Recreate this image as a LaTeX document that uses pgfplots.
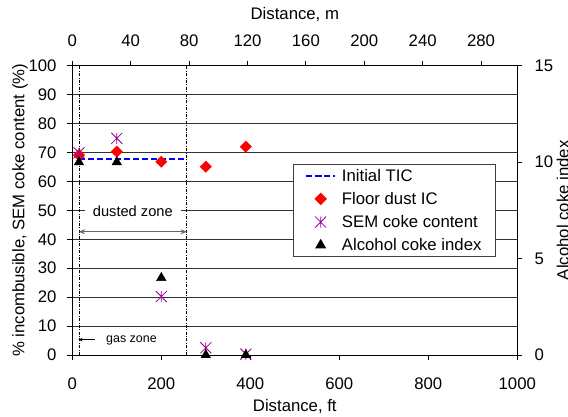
\documentclass[border=0pt]{standalone}
\usepackage{pgfplots}
\pgfplotsset{compat=1.18}
\usepackage{fontspec}
\setmainfont{Liberation Sans}
\usetikzlibrary{arrows.meta}
\definecolor{semviolet}{RGB}{153,0,153}
\pgfdeclareplotmark{excelstar}{%
  \pgfpathmoveto{\pgfqpoint{-\pgfplotmarksize}{-\pgfplotmarksize}}%
  \pgfpathlineto{\pgfqpoint{\pgfplotmarksize}{\pgfplotmarksize}}%
  \pgfpathmoveto{\pgfqpoint{-\pgfplotmarksize}{\pgfplotmarksize}}%
  \pgfpathlineto{\pgfqpoint{\pgfplotmarksize}{-\pgfplotmarksize}}%
  \pgfpathmoveto{\pgfqpoint{0pt}{-\pgfplotmarksize}}%
  \pgfpathlineto{\pgfqpoint{0pt}{\pgfplotmarksize}}%
  \pgfusepathqstroke}
\newcommand{\bigf}{\fontsize{16.8}{20}\selectfont}
\pgfplotsset{
  every axis/.append style={
    scale only axis, width=445bp, height=289.3bp,
    tick align=outside, major tick length=5bp,
    axis line style={black, line width=0.8bp},
    tick style={black, line width=0.8bp},
    font=\bigf,
    ticklabel style={font=\bigf},
    /pgf/number format/assume math mode=true,
    /pgf/number format/set thousands separator={},
    clip=false,
  },
  legend image code/.code={%
    \draw[mark repeat=2,mark phase=2,#1] plot coordinates {(0bp,0bp)(14.5bp,0bp)(29bp,0bp)};},
}
\begin{document}
\begin{tikzpicture}
\begin{axis}[
  xmin=0, xmax=1000, ymin=0, ymax=100,
  xtick={0,200,...,1000}, ytick={0,10,...,100},
  xtick pos=left, ytick pos=left,
  ymajorgrids, grid style={black!80, line width=0.6bp},
  xticklabel style={anchor=north, inner sep=0pt, yshift=-18bp},
  yticklabel style={anchor=east, inner sep=0pt, xshift=-10.6bp},
  xlabel={Distance, ft},
  ylabel={\% incombusible, SEM coke content (\%)},
  every axis x label/.style={at={(axis description cs:0.5,-0.197)}, anchor=base},
  every axis y label/.style={at={(axis description cs:-0.1175,0.5)}, anchor=center, rotate=90},
]
\draw[black, line width=0.8bp, dash pattern=on 3bp off 1.5bp on 0.8bp off 1.5bp] (axis cs:15,0) -- (axis cs:15,100);
\draw[black, line width=0.8bp, dash pattern=on 3bp off 1.5bp on 0.8bp off 1.5bp] (axis cs:257,0) -- (axis cs:257,100);
\node[fill=white, inner xsep=8bp, inner ysep=3bp, anchor=mid, font=\fontsize{14.7}{17}\selectfont] at (axis cs:136,48.8) {dusted zone};
\draw[black!60, line width=1.3bp, {Stealth[length=6bp,width=5bp]}-{Stealth[length=6bp,width=5bp]}] (axis cs:15,42.6) -- (axis cs:257,42.6);
\draw[black, line width=0.8bp, -{Stealth[length=4bp,width=3.5bp]}] (axis cs:51,5.3) -- (axis cs:14,5.3);
\node[anchor=mid west, inner sep=0pt, font=\fontsize{12.5}{15}\selectfont] at (axis cs:75.7,5.2) {gas zone};
\addplot[blue, line width=1.5bp, dash pattern=on 6bp off 3bp] coordinates {(15,67.7) (255,67.7)};
\addplot[only marks, mark=square*, red, mark size=4bp, mark options={rotate=45}] coordinates {
  (15,69.1) (100,70.3) (200,66.8) (300,65.1) (390,72.0)};
\addplot[only marks, mark=excelstar, semviolet, mark size=5.5bp, line width=0.8bp] coordinates {
  (15,69.9) (100,74.9) (200,20.2) (300,2.5) (390,0.3)};
\end{axis}
\begin{axis}[
  xmin=0, xmax=304.8, ymin=0, ymax=15,
  xtick={0,40,...,280}, ytick={0,5,10,15},
  xtick pos=right, ytick pos=right,
  xticklabel pos=right, yticklabel pos=right,
  xticklabel style={anchor=south, inner sep=0pt, yshift=14bp},
  yticklabel style={anchor=west, inner sep=0pt, xshift=12bp},
  xlabel={Distance, m},
  ylabel={Alcohol coke index},
  every axis x label/.style={at={(axis description cs:0.5,1.158)}, anchor=base},
  every axis y label/.style={at={(axis description cs:1.1027,0.5)}, anchor=center, rotate=90},
  legend style={at={(axis description cs:0.496,0.660)}, anchor=north west,
    draw=black!75, line width=0.8bp, fill=white, font=\bigf,
    inner xsep=12bp, inner ysep=2.5bp, row sep=5.5bp, column sep=4bp,
    nodes={inner sep=2bp}},
  legend cell align=left,
]
\addlegendimage{blue, line width=1.5bp, dash pattern=on 6bp off 3bp}
\addlegendentry{Initial TIC}
\addlegendimage{only marks, mark=square*, red, mark size=4bp, mark options={rotate=45}}
\addlegendentry{Floor dust IC}
\addlegendimage{only marks, mark=excelstar, semviolet, mark size=5.5bp, line width=0.8bp}
\addlegendentry{SEM coke content}
\addplot[only marks, mark=triangle*, black, mark size=5.5bp] coordinates {
  (4.572,10) (30.48,10) (60.96,4) (91.44,0) (118.87,0)};
\addlegendentry{Alcohol coke index}
\end{axis}
\pgfresetboundingbox
\useasboundingbox (-72.3bp,-62bp) rectangle (495.7bp,355bp);
\end{tikzpicture}
\end{document}
